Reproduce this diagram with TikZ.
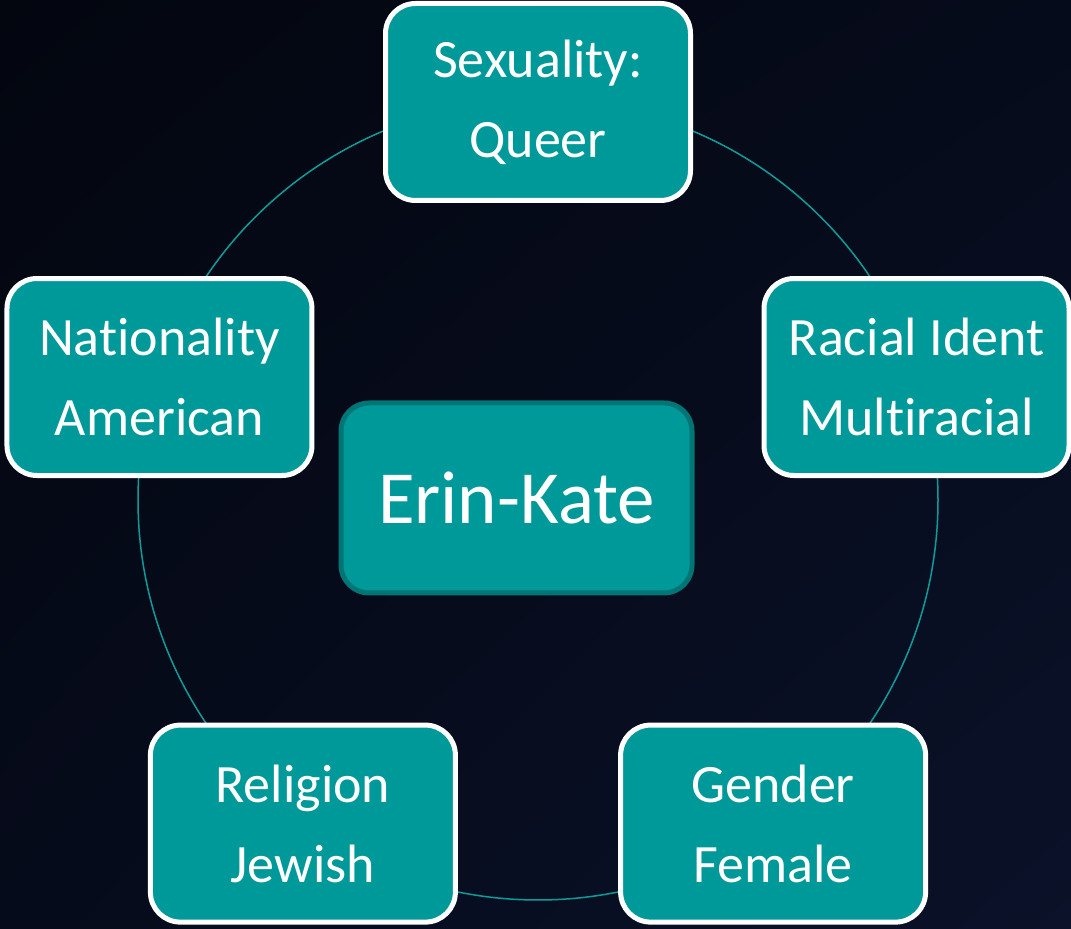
\documentclass[tikz,border=0pt]{standalone}
\usepackage{fontspec}
\setmainfont[Ligatures=NoCommon]{Carlito}
\usetikzlibrary{positioning, shadings}
\definecolor{tealfill}{HTML}{009999}
\definecolor{tealdark}{HTML}{007575}
\definecolor{tealring}{HTML}{0E9C9A}
\definecolor{bgtl}{HTML}{03060F}
\definecolor{bgmid}{HTML}{060B1B}
\definecolor{bgbr}{HTML}{0B1229}

\begin{document}
\begin{tikzpicture}[x=1pt, y=1pt,
    every node/.style={font=\fontsize{54}{80}\selectfont, text=white},
    facet/.style={rectangle, rounded corners=30pt, draw=white, line width=5pt, fill=tealfill,
      minimum width=305pt, minimum height=197pt, inner sep=0pt, align=center},
    core/.style={rectangle, rounded corners=28pt, draw=tealdark, line width=5pt, fill=tealfill,
      minimum width=351pt, minimum height=190pt, inner sep=0pt, font=\fontsize{75}{90}\selectfont},
    ring/.style={draw=tealring, line width=1.5pt}]

% Background
\shade[upper left=bgtl, upper right=bgmid, lower left=bgmid, lower right=bgbr] (0,0) rectangle (1071,929);
\useasboundingbox (0,0) rectangle (1071,929);

% Ring behind the boxes
\coordinate (hub) at (538,429);
\draw[ring] (hub) circle (400);

% Centre box
\node[core] (me) at (516.5,431) {Erin-Kate};

% Outer boxes
\node[facet] (sexuality) at ([shift={(90:398)}]hub) {Sexuality:\\Queer};
\node[facet] (race) at ([shift={(18:398)}]hub) {Racial Ident\\Multiracial};
\node[facet] (gender) at ([shift={(-54:400)}]hub) {Gender\\Female};
\node[facet] (religion) at ([shift={(-126:400)}]hub) {Religion\\Jewish};
\node[facet] (nation) at ([shift={(162:398)}]hub) {Nationality\\American};

\end{tikzpicture}
\end{document}
